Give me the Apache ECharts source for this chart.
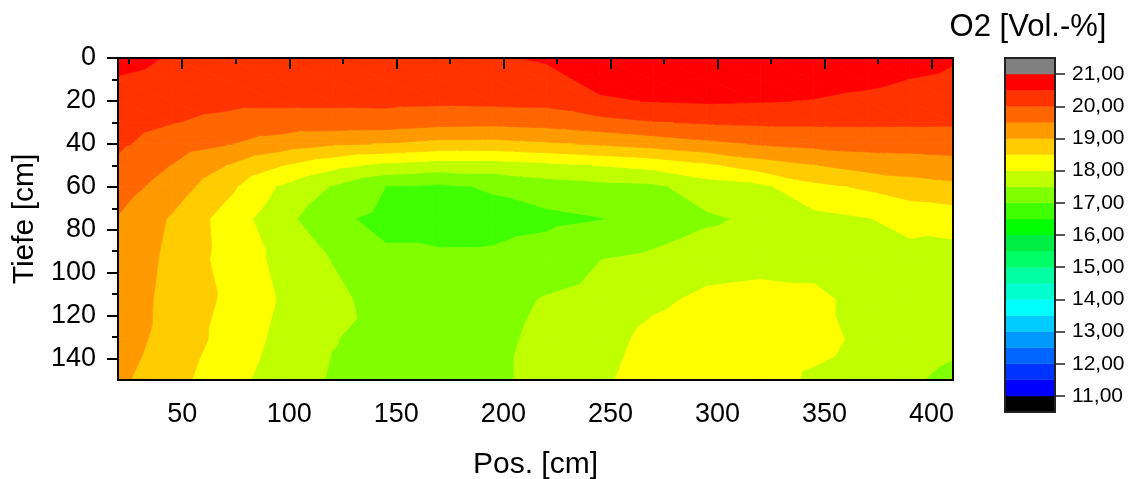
<!DOCTYPE html>
<html>
<head>
<meta charset="utf-8">
<script src="https://cdn.jsdelivr.net/npm/echarts@6/dist/echarts.min.js"></script>
<style>
  html, body { margin: 0; padding: 0; background: #fff; }
  #chart { width: 1134px; height: 479px; }
</style>
</head>
<body>
<div id="chart"></div>
<script>
// Measurement grid: positions along the profile [cm] and depths [cm]
const posX = [20, 45, 70, 95, 120, 145, 170, 195, 220, 245, 270, 295, 320, 345, 370, 390, 410];
const depthY = [0, 10, 20, 30, 40, 50, 60, 75, 93.75, 112.5, 131.25, 150];

// O2 concentration [Vol.-%], one row per depth (same order as depthY), one column per position
const o2 = [
  [20.70, 20.45, 20.40, 20.40, 20.40, 20.40, 20.40, 20.45, 20.55, 20.80, 20.85, 20.90, 20.92, 20.90, 20.85, 20.75, 20.56],
  [20.46, 20.31, 20.25, 20.25, 20.25, 20.27, 20.26, 20.30, 20.36, 20.64, 20.68, 20.73, 20.75, 20.70, 20.62, 20.49, 20.39],
  [20.33, 20.17, 20.10, 20.10, 20.10, 20.12, 20.10, 20.12, 20.14, 20.44, 20.52, 20.56, 20.53, 20.48, 20.37, 20.28, 20.22],
  [20.21, 20.02, 19.89, 19.79, 19.78, 19.77, 19.66, 19.63, 19.69, 19.83, 19.97, 20.05, 20.08, 20.08, 20.08, 20.07, 20.06],
  [20.08, 19.77, 19.54, 19.27, 19.06, 18.98, 18.84, 18.83, 18.93, 19.06, 19.21, 19.38, 19.54, 19.63, 19.68, 19.69, 19.72],
  [19.92, 19.49, 19.01, 18.54, 18.16, 17.88, 17.76, 17.76, 17.88, 18.02, 18.15, 18.41, 18.75, 18.98, 19.20, 19.25, 19.31],
  [19.73, 19.27, 18.66, 17.97, 17.47, 17.00, 16.90, 17.06, 17.25, 17.35, 17.40, 17.76, 17.88, 18.37, 18.57, 18.77, 18.88],
  [19.47, 18.95, 18.32, 17.70, 17.12, 16.85, 16.75, 16.80, 16.88, 16.98, 17.20, 17.42, 17.60, 17.85, 17.98, 18.14, 18.20],
  [19.40, 18.87, 18.35, 17.89, 17.48, 17.10, 17.10, 17.10, 17.25, 17.49, 17.60, 17.80, 17.85, 17.85, 17.90, 17.85, 17.80],
  [19.35, 18.82, 18.44, 17.98, 17.63, 17.30, 17.30, 17.35, 17.53, 17.65, 17.90, 18.10, 18.15, 18.10, 17.85, 17.75, 17.75],
  [19.25, 18.80, 18.36, 17.89, 17.52, 17.35, 17.35, 17.40, 17.60, 17.80, 18.15, 18.30, 18.35, 18.20, 17.85, 17.70, 17.60],
  [19.10, 18.68, 18.21, 17.77, 17.45, 17.35, 17.35, 17.40, 17.65, 17.90, 18.25, 18.30, 18.30, 17.90, 17.70, 17.55, 17.40]
];

// Contour levels and the fill colour of each band (below first level ... above last level)
const levels = [11, 11.5, 12, 12.5, 13, 13.5, 14, 14.5, 15, 15.5, 16, 16.5, 17, 17.5, 18, 18.5, 19, 19.5, 20, 20.5, 21];
const bandColors = [
  '#000000',
  '#0000FF', '#0033FF', '#0066FF', '#0099FF', '#00CCFF',
  '#00FFFF', '#00FFCC', '#00FFA0', '#00FF66', '#00EE44',
  '#00FF00', '#40FF00', '#80FF00', '#BFFF00', '#FFFF00',
  '#FFCC00', '#FF9900', '#FF6600', '#FF3300', '#FF0000',
  '#808080'
];

// Tick positions
const xTicks = [50, 100, 150, 200, 250, 300, 350, 400];
const xMinorTicks = [25, 75, 125, 175, 225, 275, 325, 375];
const yTicks = [0, 20, 40, 60, 80, 100, 120, 140];
const yMinorTicks = [10, 30, 50, 70, 90, 110, 130];
const barTicks = [11, 12, 13, 14, 15, 16, 17, 18, 19, 20, 21];

const FONT = '"Liberation Sans", Arial, sans-serif';
const BAR_MIN = 10.5, BAR_MAX = 21.5;

// One data item per grid node
const nodes = [];
for (let j = 0; j < depthY.length; j++) {
  for (let i = 0; i < posX.length; i++) nodes.push([posX[i], depthY[j], o2[j][i]]);
}

// Colour-bar blocks: [category, lower, upper, band index]
const barBlocks = bandColors.map((c, k) => [
  0,
  k === 0 ? BAR_MIN : levels[k - 1],
  k === levels.length ? BAR_MAX : levels[k],
  k
]);

// Keep the part of a polygon on one side of an iso-level (values vary linearly)
function clipPoly(poly, level, keepAbove) {
  const out = [];
  for (let n = 0; n < poly.length; n++) {
    const a = poly[n], b = poly[(n + 1) % poly.length];
    const ina = keepAbove ? a.v >= level : a.v <= level;
    const inb = keepAbove ? b.v >= level : b.v <= level;
    if (ina) out.push(a);
    if (ina !== inb) {
      const t = (level - a.v) / (b.v - a.v);
      out.push({ x: a.x + t * (b.x - a.x), y: a.y + t * (b.y - a.y), v: level });
    }
  }
  return out;
}

// Filled contour bands of the cell whose top-left corner is this node
function renderCell(params, api) {
  const nx = posX.length;
  const i = params.dataIndex % nx;
  const j = Math.floor(params.dataIndex / nx);
  if (i >= nx - 1 || j >= depthY.length - 1) return null;
  const corner = (ii, jj) => {
    const p = api.coord([posX[ii], depthY[jj]]);
    return { x: p[0], y: p[1], v: o2[jj][ii] };
  };
  const a = corner(i, j), b = corner(i + 1, j), c = corner(i + 1, j + 1), d = corner(i, j + 1);
  const children = [];
  [[a, b, c], [a, c, d]].forEach(tri => {
    const vals = tri.map(p => p.v);
    const vmin = Math.min.apply(null, vals), vmax = Math.max.apply(null, vals);
    for (let k = 0; k < bandColors.length; k++) {
      const lo = k === 0 ? -Infinity : levels[k - 1];
      const hi = k === levels.length ? Infinity : levels[k];
      if (vmax < lo || vmin >= hi) continue;
      let poly = tri;
      if (lo > -Infinity) poly = clipPoly(poly, lo, true);
      if (poly.length >= 3 && hi < Infinity) poly = clipPoly(poly, hi, false);
      if (poly.length < 3) continue;
      children.push({
        type: 'polygon',
        shape: { points: poly.map(p => [p.x, p.y]) },
        style: { fill: bandColors[k], stroke: bandColors[k], lineWidth: 0.8, lineJoin: 'round' },
        silent: true
      });
    }
  });
  return { type: 'group', children };
}

function renderBlock(params, api) {
  const cs = params.coordSys;
  const top = api.coord([0, api.value(2)])[1];
  const bottom = api.coord([0, api.value(1)])[1];
  return {
    type: 'rect',
    shape: { x: cs.x, y: top, width: cs.width, height: bottom - top },
    style: { fill: bandColors[api.value(3)], stroke: bandColors[api.value(3)], lineWidth: 0.5 },
    silent: true
  };
}

const axisText = { color: '#000', fontFamily: FONT };
const chart = echarts.init(document.getElementById('chart'), null, { renderer: 'canvas' });

chart.setOption({
  animation: false,
  backgroundColor: '#fff',
  grid: [
    {
      left: 118, top: 58, width: 835, height: 322, containLabel: false, outerBoundsMode: 'none',
      show: true, borderColor: '#000', borderWidth: 2, backgroundColor: 'transparent', z: 5
    },
    {
      left: 1005, top: 58, width: 50, height: 354, containLabel: false, outerBoundsMode: 'none',
      show: true, borderColor: '#222', borderWidth: 2, backgroundColor: 'transparent', z: 5
    }
  ],
  xAxis: [
    {
      gridIndex: 0, type: 'value', min: 20, max: 410, position: 'bottom', z: 6,
      axisLine: { show: true, lineStyle: { color: '#000', width: 2 } },
      axisTick: { show: true, customValues: xTicks, length: 11, lineStyle: { color: '#000', width: 2 } },
      axisLabel: { customValues: xTicks, fontSize: 27, margin: 21, ...axisText },
      splitLine: { show: false },
      name: 'Pos. [cm]', nameLocation: 'middle', nameGap: 70,
      nameTextStyle: { fontSize: 30, ...axisText }
    },
    {
      gridIndex: 0, type: 'value', min: 20, max: 410, position: 'bottom', z: 6,
      axisLine: { show: false },
      axisTick: { show: true, customValues: xMinorTicks, length: 6, lineStyle: { color: '#000', width: 2 } },
      axisLabel: { show: false },
      splitLine: { show: false }
    },
    { gridIndex: 1, type: 'category', data: ['O2'], show: false }
  ],
  yAxis: [
    {
      gridIndex: 0, type: 'value', min: 0, max: 150, inverse: true, position: 'left', z: 6,
      axisLine: { show: true, lineStyle: { color: '#000', width: 2 } },
      axisTick: { show: true, customValues: yTicks, length: 11, lineStyle: { color: '#000', width: 2 } },
      axisLabel: { customValues: yTicks, fontSize: 27, margin: 22, ...axisText },
      splitLine: { show: false },
      name: 'Tiefe [cm]', nameLocation: 'middle', nameGap: 76, nameRotate: 90,
      nameTextStyle: { fontSize: 30, ...axisText }
    },
    {
      gridIndex: 0, type: 'value', min: 0, max: 150, inverse: true, position: 'left', z: 6,
      axisLine: { show: false },
      axisTick: { show: true, customValues: yMinorTicks, length: 6, lineStyle: { color: '#000', width: 2 } },
      axisLabel: { show: false },
      splitLine: { show: false }
    },
    {
      gridIndex: 1, type: 'value', min: BAR_MIN, max: BAR_MAX, position: 'right', z: 6,
      axisLine: { show: false },
      axisTick: { show: true, customValues: barTicks, length: 10, lineStyle: { color: '#222', width: 1.5 } },
      axisLabel: {
        customValues: barTicks, fontSize: 21, margin: 17, ...axisText,
        formatter: v => v.toFixed(2).replace('.', ',')
      },
      splitLine: { show: false }
    }
  ],
  graphic: [
    {
      type: 'text', x: 1028, y: 27, z: 10,
      style: { text: 'O2 [Vol.-%]', fontSize: 31, fontFamily: FONT, fill: '#000', align: 'center', verticalAlign: 'middle' }
    }
  ],
  series: [
    {
      type: 'custom', name: 'O2', xAxisIndex: 0, yAxisIndex: 0, z: 1,
      data: nodes, encode: { x: 0, y: 1 },
      renderItem: renderCell
    },
    {
      type: 'custom', name: 'Farbskala', xAxisIndex: 2, yAxisIndex: 2, z: 1,
      data: barBlocks, encode: { x: 0, y: [1, 2] },
      renderItem: renderBlock
    }
  ]
});
</script>
</body>
</html>
